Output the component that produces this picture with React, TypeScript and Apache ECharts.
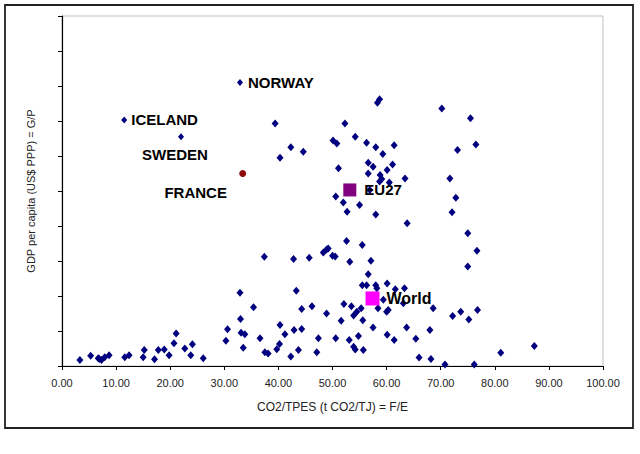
import React, { useEffect, useRef } from "react";
import * as echarts from "echarts";

// CO2/TPES (x) vs GDP per capita (y, arbitrary units 0..10)
const countries: [number, number][] = [
  [3.3, 0.17], [5.3, 0.29], [6.7, 0.22], [6.9, 0.2], [7.3, 0.17], [7.9, 0.25], [8.7, 0.31],
  [11.6, 0.25], [12.4, 0.31], [15.2, 0.46], [15.0, 0.25], [17.1, 0.19], [17.8, 0.46],
  [18.9, 0.47], [19.8, 0.31], [20.7, 0.65], [21.1, 0.93], [22.7, 0.5], [24.1, 0.62],
  [23.8, 0.31], [26.1, 0.22],
  [30.3, 0.72], [30.6, 1.05], [32.9, 2.09], [33.0, 1.34], [33.1, 0.95], [33.8, 0.91],
  [33.5, 0.52], [35.4, 1.68], [37.4, 3.12], [36.6, 0.79], [37.5, 0.39], [38.1, 0.36],
  [40.3, 1.17], [39.7, 0.48], [40.2, 0.63], [41.2, 0.91], [42.3, 0.27], [42.8, 3.06],
  [43.3, 2.15], [42.9, 1.03], [43.7, 0.46], [44.3, 1.63], [44.3, 1.06], [45.7, 3.09],
  [46.2, 1.71], [47.1, 0.39], [47.4, 0.79],
  [48.3, 3.24], [48.9, 3.33], [49.2, 3.36], [50.0, 3.15], [50.5, 3.13], [48.9, 1.5],
  [50.6, 0.79], [51.6, 1.29], [52.6, 3.57], [53.2, 2.98], [52.1, 1.77], [53.1, 0.74],
  [53.5, 1.71], [53.9, 1.44], [53.9, 0.55], [54.2, 0.47], [54.5, 1.55], [54.8, 0.86],
  [55.5, 3.46], [55.7, 0.46], [55.6, 1.31], [55.3, 1.65], [55.5, 2.31], [56.6, 2.62],
  [57.1, 3.01], [57.5, 1.1], [56.3, 2.31], [58.0, 2.31], [58.4, 1.65], [58.2, 2.22],
  [60.1, 2.36], [61.6, 2.19], [63.3, 2.22], [59.4, 1.89], [63.1, 1.79], [60.3, 1.6],
  [60.0, 1.55], [68.6, 1.65], [73.7, 1.55], [72.2, 1.43], [75.2, 1.33], [76.8, 1.6],
  [63.7, 1.1], [68.0, 1.03], [60.1, 0.89], [61.4, 0.74], [65.4, 0.78], [66.0, 0.24],
  [68.2, 0.2], [70.8, 0.04], [76.2, 0.04], [81.1, 0.38], [87.3, 0.57], [75.0, 3.79],
  [76.7, 3.29], [75.0, 2.84], [63.8, 4.08],
  [58.7, 7.62], [58.3, 7.52], [70.2, 7.36], [75.5, 7.08], [52.3, 6.93], [50.1, 6.44],
  [50.8, 6.36], [54.2, 6.55], [56.3, 6.38], [58.0, 6.25], [61.4, 6.31], [59.3, 6.06],
  [76.5, 6.33], [73.1, 6.17], [44.6, 6.12], [56.6, 5.81], [57.5, 5.69], [61.1, 5.76],
  [60.1, 5.6], [51.1, 5.65], [56.6, 5.5], [58.8, 5.46], [59.1, 5.34], [58.7, 5.27],
  [60.5, 5.24], [63.4, 5.36], [71.7, 5.36], [50.6, 4.84], [52.0, 4.67], [52.7, 4.41],
  [55.0, 4.6], [58.0, 4.33], [72.8, 4.81], [72.1, 4.39], [56.9, 5.03], [39.4, 6.93],
  [42.3, 6.25], [40.3, 5.95],
];

const norway: [number, number] = [32.9, 8.1];
const iceland: [number, number] = [11.5, 7.03];
const sweden: [number, number] = [22.0, 6.55];
const france: [number, number] = [33.4, 5.5];
const eu27: [number, number] = [53.2, 5.03];
const world: [number, number] = [57.4, 1.93];

const xTicks = { min: 0, max: 100, interval: 10 };
const yTicks = { min: 0, max: 10, interval: 1 };

const FONT = "'Liberation Sans', Arial, sans-serif";
const NAVY = "#00007e";

export default function App() {
  const ref = useRef<HTMLDivElement>(null);
  useEffect(() => {
    if (!ref.current) return;
    const chart = echarts.init(ref.current, undefined, { renderer: "svg" });
    const boldLabel = {
      show: true,
      fontFamily: FONT,
      fontWeight: "bold" as const,
      fontSize: 15,
      color: "#000",
      opacity: 1,
    };
    const base = {
      type: "scatter" as const,
      emphasis: { disabled: true },
    };
    chart.setOption({
      animation: false,
      backgroundColor: "#fff",
      graphic: [
        {
          type: "rect",
          shape: { x: 5, y: 5, width: 628, height: 423 },
          style: { fill: "none", stroke: "#222", lineWidth: 1.8 },
          silent: true,
        },
      ],
      grid: {
        left: 62,
        top: 16,
        right: 37,
        bottom: 88,
        show: true,
        borderColor: "#c0c0c0",
        borderWidth: 1,
        backgroundColor: "transparent",
      },
      xAxis: {
        type: "value",
        min: xTicks.min,
        max: xTicks.max,
        interval: xTicks.interval,
        name: "CO2/TPES (t CO2/TJ) = F/E",
        nameLocation: "middle",
        nameGap: 35,
        nameTextStyle: { fontFamily: FONT, fontSize: 12, color: "#222" },
        axisLine: { lineStyle: { color: "#000", width: 1.2 } },
        axisTick: { show: true, length: 4, lineStyle: { color: "#000" } },
        axisLabel: {
          fontFamily: FONT,
          fontSize: 11,
          color: "#222",
          margin: 11,
          formatter: (v: number) => v.toFixed(2),
        },
        splitLine: { show: false },
      },
      yAxis: {
        type: "value",
        min: yTicks.min,
        max: yTicks.max,
        interval: yTicks.interval,
        name: "GDP per capita (US$ PPP) = G/P",
        nameLocation: "middle",
        nameGap: 26,
        nameTextStyle: { fontFamily: FONT, fontSize: 11, color: "#222" },
        axisLine: { show: true, lineStyle: { color: "#000", width: 1.2 } },
        axisTick: { show: true, length: 4, lineStyle: { color: "#000" } },
        axisLabel: { show: false },
        splitLine: { show: false },
      },
      series: [
        {
          ...base,
          data: countries,
          symbol: "diamond",
          symbolSize: [7, 8],
          itemStyle: { color: NAVY, opacity: 1 },
        },
        {
          ...base,
          data: [norway],
          symbol: "diamond",
          symbolSize: [6, 7],
          itemStyle: { color: NAVY, opacity: 1 },
          label: { ...boldLabel, position: "right", distance: 5, formatter: "NORWAY" },
        },
        {
          ...base,
          data: [iceland],
          symbol: "diamond",
          symbolSize: [6, 7],
          itemStyle: { color: NAVY, opacity: 1 },
          label: { ...boldLabel, position: "right", distance: 4, formatter: "ICELAND" },
        },
        {
          ...base,
          data: [sweden],
          symbol: "diamond",
          symbolSize: [6, 7],
          itemStyle: { color: NAVY, opacity: 1 },
          label: { ...boldLabel, position: "inside", offset: [-6, 18], formatter: "SWEDEN" },
        },
        {
          ...base,
          data: [france],
          symbol: "circle",
          symbolSize: 7,
          itemStyle: { color: "#8b0a0a", opacity: 1 },
          label: { ...boldLabel, position: "inside", offset: [-47, 19], formatter: "FRANCE" },
        },
        {
          ...base,
          data: [eu27],
          symbol: "rect",
          symbolSize: 13,
          itemStyle: { color: "#800080", opacity: 1 },
          label: { ...boldLabel, position: "right", distance: 8, formatter: "EU27" },
        },
        {
          ...base,
          data: [world],
          symbol: "rect",
          symbolSize: 14,
          itemStyle: { color: "#ff00ff", opacity: 1 },
          label: {
            ...boldLabel,
            fontSize: 16,
            position: "right",
            distance: 7,
            formatter: "World",
          },
        },
      ],
    });
    return () => chart.dispose();
  }, []);
  return (
    <div
      ref={ref}
      style={{ position: "fixed", left: 0, top: 0, width: 640, height: 454 }}
    />
  );
}
